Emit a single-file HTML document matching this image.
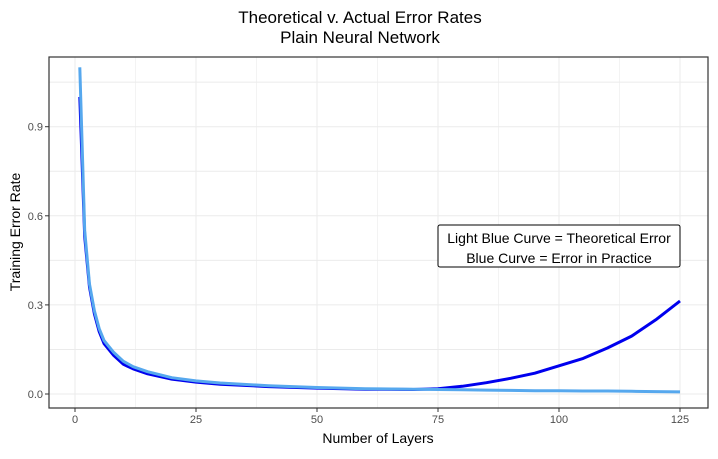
<!DOCTYPE html>
<html><head><meta charset="utf-8"><style>
body{margin:0;background:#fff;font-family:"Liberation Sans",sans-serif}
svg text{font-family:"Liberation Sans",sans-serif}
</style></head><body>
<svg id="c" width="718" height="454">
<g id="grid"></g><g id="series"></g><g id="axes"></g>
<text x="360" y="23" text-anchor="middle" font-size="17">Theoretical v. Actual Error Rates</text>
<text x="360" y="43" text-anchor="middle" font-size="17">Plain Neural Network</text>
<text x="378" y="443" text-anchor="middle" font-size="14">Number of Layers</text>
<text transform="translate(20,232) rotate(-90)" text-anchor="middle" font-size="14">Training Error Rate</text>
<g>
<rect x="438" y="225" width="242" height="42" rx="2" fill="#fff" stroke="#000" stroke-width="1"/>
<text x="559" y="243" text-anchor="middle" font-size="14">Light Blue Curve = Theoretical Error</text>
<text x="559" y="263" text-anchor="middle" font-size="14">Blue Curve = Error in Practice</text>
</g>
</svg>
<script>
const xs=[1,2,3,4,5,6,8,10,12,15,20,25,30,40,50,60,70,75,80,85,90,95,100,105,110,115,120,125];
const theo=[1.10,0.55,0.37,0.28,0.22,0.18,0.14,0.11,0.092,0.075,0.055,0.044,0.037,0.028,0.022,0.018,0.016,0.015,0.014,0.013,0.012,0.011,0.011,0.010,0.010,0.009,0.008,0.007];
const actual=[1.00,0.53,0.36,0.27,0.21,0.17,0.13,0.10,0.085,0.068,0.05,0.04,0.033,0.025,0.02,0.016,0.015,0.018,0.026,0.038,0.053,0.07,0.095,0.12,0.155,0.195,0.25,0.313];
const xTicks=[0,25,50,75,100,125];
const yTicks=[0,0.3,0.6,0.9];
const yTickLabels=["0.0","0.3","0.6","0.9"];
const X=v=>75+v*4.84, Y=v=>394-v*297;
const ns="http://www.w3.org/2000/svg";
function mk(p,t,a){const e=document.createElementNS(ns,t);for(const k in a)e.setAttribute(k,a[k]);p.appendChild(e);return e;}
const grid=document.getElementById('grid'),axes=document.getElementById('axes'),ser=document.getElementById('series');
const L=49,R=708,T=57,B=408;
for(let v=-12.5;v<=137.5;v+=12.5){const x=X(v);if(x<L||x>R)continue;const g=mk(grid,'line',{x1:x,x2:x,y1:T,y2:B,stroke:'#ebebeb','stroke-width':xTicks.includes(v)?1:0.6});

}
for(let v=-0.15;v<=1.1;v+=0.15){const y=Y(v);if(y<T||y>B)continue;const g=mk(grid,'line',{x1:L,x2:R,y1:y,y2:y,stroke:'#ebebeb','stroke-width':1});

}
const frame=mk(axes,'rect',{x:L,y:T,width:R-L,height:B-T,fill:'none',stroke:'#333','stroke-width':1.2});


xTicks.forEach(v=>{mk(axes,'line',{x1:X(v),x2:X(v),y1:B,y2:B+4,stroke:'#333'});const t=mk(axes,'text',{x:X(v),y:B+15,'text-anchor':'middle','font-size':11,fill:'#4d4d4d'});t.textContent=v;

});
yTicks.forEach((v,i)=>{mk(axes,'line',{x1:L-4,x2:L,y1:Y(v),y2:Y(v),stroke:'#333'});const t=mk(axes,'text',{x:L-6,y:Y(v)+4,'text-anchor':'end','font-size':11,fill:'#4d4d4d'});t.textContent=yTickLabels[i];

});
function path(arr){return arr.map((v,i)=>(i?'L':'M')+X(xs[i]).toFixed(1)+','+Y(v).toFixed(1)).join('');}
const a=mk(ser,'path',{d:path(actual),fill:'none',stroke:'#0000ee','stroke-width':3,'stroke-linejoin':'round'});


const t=mk(ser,'path',{d:path(theo),fill:'none',stroke:'#56a8ee','stroke-width':3,'stroke-linejoin':'round'});


</script>
</body></html>
